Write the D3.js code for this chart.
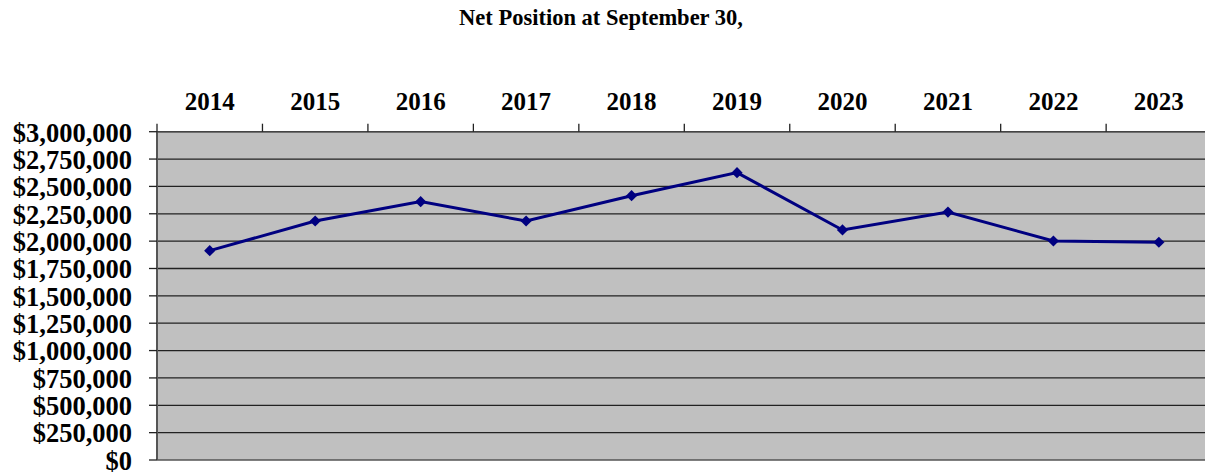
<!DOCTYPE html>
<html>
<head>
<meta charset="utf-8">
<script src="https://cdn.jsdelivr.net/npm/d3@7"></script>
<style>
  html, body { margin: 0; padding: 0; background: #fff; }
  svg { display: block; overflow: hidden; }
  text { font-family: "Liberation Serif", "Times New Roman", serif; font-weight: bold; fill: #000; }
</style>
</head>
<body>
<svg id="chart" width="1205" height="472"></svg>
<script>
// Net position by fiscal year
const years = ["2014", "2015", "2016", "2017", "2018", "2019", "2020", "2021", "2022", "2023"];
const netPosition = [1913000, 2184000, 2361000, 2184000, 2415000, 2626000, 2102000, 2266000, 2001000, 1990000];
const yTicks = [0, 250000, 500000, 750000, 1000000, 1250000, 1500000, 1750000, 2000000, 2250000, 2500000, 2750000, 3000000];
const title = "Net Position at September 30,";

const svg = d3.select("#chart");

// Plot area (runs slightly past the right edge, like the original)
const plotL = 157, plotR = 1211.6, plotT = 131.7, plotB = 460;

const x = d3.scaleBand().domain(years).range([plotL, plotR]);
const y = d3.scaleLinear().domain([0, 3000000]).range([plotB, plotT]);

// Title
svg.append("text")
  .attr("x", 601)
  .attr("y", 25)
  .attr("text-anchor", "middle")
  .style("font-size", "22.5px")
  .text(title);

// Plot background
svg.append("rect")
  .attr("x", plotL)
  .attr("y", plotT)
  .attr("width", plotR - plotL)
  .attr("height", plotB - plotT)
  .attr("fill", "#c0c0c0");

// Horizontal gridlines
svg.append("g")
  .selectAll("line")
  .data(yTicks.slice(1))
  .join("line")
  .attr("x1", plotL)
  .attr("x2", plotR)
  .attr("y1", (d) => y(d))
  .attr("y2", (d) => y(d))
  .attr("stroke", "#222")
  .attr("stroke-width", 1.3);

// Left axis line + ticks + labels
svg.append("line")
  .attr("x1", plotL).attr("x2", plotL)
  .attr("y1", plotT).attr("y2", plotB)
  .attr("stroke", "#555").attr("stroke-width", 2);

const yAxis = svg.append("g");
yAxis.selectAll("line")
  .data(yTicks)
  .join("line")
  .attr("x1", plotL - 8)
  .attr("x2", plotL)
  .attr("y1", (d) => y(d))
  .attr("y2", (d) => y(d))
  .attr("stroke", "#222")
  .attr("stroke-width", 1.3);

const fmt = (d) => "$" + d3.format(",")(d);
yAxis.selectAll("text")
  .data(yTicks)
  .join("text")
  .attr("x", 132)
  .attr("y", (d) => y(d))
  .attr("dy", "0.37em")
  .attr("text-anchor", "end")
  .style("font-size", "26.5px")
  .text(fmt);

// Top category axis (labels above the plot)
svg.append("line")
  .attr("x1", plotL).attr("x2", plotR)
  .attr("y1", plotT).attr("y2", plotT)
  .attr("stroke", "#444").attr("stroke-width", 1.5);

svg.append("g")
  .selectAll("line")
  .data(years)
  .join("line")
  .attr("x1", (d) => x(d))
  .attr("x2", (d) => x(d))
  .attr("y1", plotT - 8)
  .attr("y2", plotT)
  .attr("stroke", "#222")
  .attr("stroke-width", 1.3);

svg.append("g")
  .selectAll("text")
  .data(years)
  .join("text")
  .attr("x", (d) => x(d) + x.bandwidth() / 2)
  .attr("y", 110)
  .attr("text-anchor", "middle")
  .style("font-size", "25px")
  .text((d) => d);

// Bottom edge
svg.append("line")
  .attr("x1", plotL).attr("x2", plotR)
  .attr("y1", plotB).attr("y2", plotB)
  .attr("stroke", "#555").attr("stroke-width", 1.5);

// Series line
const pts = years.map((yr, i) => [x(yr) + x.bandwidth() / 2, y(netPosition[i])]);

svg.append("path")
  .datum(pts)
  .attr("d", d3.line())
  .attr("fill", "none")
  .attr("stroke", "#000080")
  .attr("stroke-width", 3);

// Diamond markers
svg.append("g")
  .selectAll("path")
  .data(pts)
  .join("path")
  .attr("transform", (d) => `translate(${d[0]},${d[1]})`)
  .attr("d", d3.symbol(d3.symbolDiamond2, 80))
  .attr("fill", "#000080");
</script>
</body>
</html>
